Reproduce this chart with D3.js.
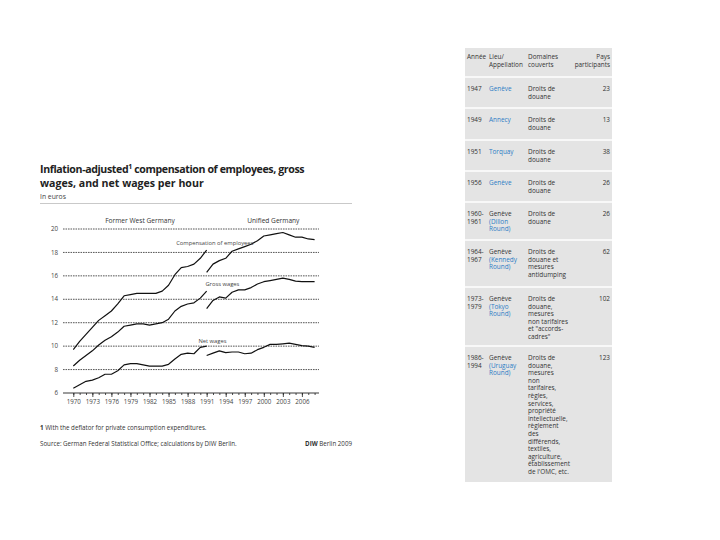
<!DOCTYPE html>
<html>
<head>
<meta charset="UTF-8">
<title>Wages and GATT rounds</title>
<script src="https://cdnjs.cloudflare.com/ajax/libs/d3/7.8.5/d3.min.js"></script>
<style>
  body { margin: 0; background: #fff; }
  text { font-family: "Open Sans", "DejaVu Sans", sans-serif; }
</style>
</head>
<body>
<svg width="720" height="540" id="canvas"></svg>
<script>
// chart data, euros per hour
var yearsWest = d3.range(1970, 1992);
var yearsUnified = d3.range(1991, 2009);
var compWest = [9.7, 10.4, 11.0, 11.6, 12.2, 12.6, 13.0, 13.6, 14.3, 14.4, 14.5,
                14.5, 14.5, 14.5, 14.7, 15.2, 16.1, 16.7, 16.8, 17.0, 17.5, 18.2];
var grossWest = [8.3, 8.8, 9.2, 9.6, 10.1, 10.5, 10.8, 11.2, 11.7, 11.8, 11.9,
                 11.9, 11.8, 11.9, 12.0, 12.3, 13.0, 13.4, 13.6, 13.7, 14.1, 14.7];
var netWest = [6.4, 6.7, 7.0, 7.1, 7.3, 7.6, 7.6, 7.9, 8.4, 8.5, 8.5,
               8.4, 8.3, 8.3, 8.3, 8.45, 8.9, 9.3, 9.4, 9.35, 9.9, 10.0];
var compUnified = [16.3, 17.0, 17.3, 17.5, 18.1, 18.3, 18.5, 18.7, 19.0, 19.4, 19.5,
                   19.6, 19.7, 19.5, 19.3, 19.3, 19.15, 19.1];
var grossUnified = [13.2, 13.9, 14.2, 14.1, 14.6, 14.8, 14.8, 15.0, 15.3, 15.5, 15.6,
                    15.7, 15.8, 15.7, 15.55, 15.5, 15.5, 15.5];
var netUnified = [9.2, 9.4, 9.6, 9.45, 9.5, 9.5, 9.35, 9.4, 9.7, 9.9, 10.15,
                  10.15, 10.2, 10.25, 10.15, 10.05, 10.0, 9.9];
var yTicks = [6, 8, 10, 12, 14, 16, 18, 20];
var xTickLabels = [1970, 1973, 1976, 1979, 1982, 1985, 1988, 1991, 1994, 1997, 2000, 2003, 2006];

// table data (GATT rounds)
var tableHeader = [["Année"], ["Lieu/", "Appellation"], ["Domaines", "couverts"], ["Pays", "participants"]];
var roundYears = [["1947"], ["1949"], ["1951"], ["1956"], ["1960-", "1961"], ["1964-", "1967"],
                  ["1973-", "1979"], ["1986-", "1994"]];
var roundPlaces = [["Genève"], ["Annecy"], ["Torquay"], ["Genève"], ["Genève", "(Dillon", "Round)"],
                   ["Genève", "(Kennedy", "Round)"], ["Genève", "(Tokyo", "Round)"],
                   ["Genève", "(Uruguay", "Round)"]];
var roundDomains = [["Droits de", "douane"], ["Droits de", "douane"], ["Droits de", "douane"],
                    ["Droits de", "douane"], ["Droits de", "douane"],
                    ["Droits de", "douane et", "mesures", "antidumping"],
                    ["Droits de", "douane,", "mesures", "non tarifaires", "et \"accords-", "cadres\""],
                    ["Droits de", "douane,", "mesures", "non", "tarifaires,", "règles,", "services,",
                     "propriété", "intellectuelle,", "règlement", "des", "différends,", "textiles,",
                     "agriculture,", "établissement", "de l'OMC, etc."]];
var roundCountries = ["23", "13", "38", "26", "26", "62", "102", "123"];

var svg = d3.select("#canvas");

// ---------- chart ----------
var x = d3.scaleLinear().domain([1970, 2008]).range([73.3, 314.6]);
var y = d3.scaleLinear().domain([6, 20]).range([393, 229]);

var head = svg.append("g").attr("fill", "#222");
head.append("text").attr("x", 40).attr("y", 173)
    .attr("font-size", 10.6).attr("font-weight", "bold").attr("letter-spacing", -0.38)
    .html("Inflation-adjusted<tspan font-size='7' baseline-shift='super'>1</tspan> compensation of employees, gross");
head.append("text").attr("x", 40).attr("y", 187)
    .attr("font-size", 10.6).attr("font-weight", "bold")
    .text("wages, and net wages per hour");
head.append("text").attr("x", 40).attr("y", 199)
    .attr("font-size", 6.8).attr("fill", "#444").text("In euros");
svg.append("line").attr("x1", 40).attr("x2", 352).attr("y1", 203.5).attr("y2", 203.5)
    .attr("stroke", "#bbb").attr("stroke-width", 0.8);

svg.append("g").attr("font-size", 6.6).attr("fill", "#333").attr("text-anchor", "middle")
  .selectAll("text").data([["Former West Germany", 1980.5], ["Unified Germany", 2001.5]])
  .enter().append("text")
    .attr("x", function (d) { return x(d[1]); }).attr("y", 223)
    .text(function (d) { return d[0]; });

// grid
svg.append("g").selectAll("line").data(yTicks.slice(1)).enter().append("line")
    .attr("x1", 63).attr("x2", 319)
    .attr("y1", function (d) { return y(d); }).attr("y2", function (d) { return y(d); })
    .attr("stroke", "#444").attr("stroke-width", 0.9).attr("stroke-dasharray", "1.6,0.9");

svg.append("g").attr("font-size", 6.2).attr("fill", "#444").attr("text-anchor", "end")
  .selectAll("text").data(yTicks).enter().append("text")
    .attr("x", 58).attr("y", function (d) { return y(d) + 2.2; })
    .text(function (d) { return d; });

// x axis
svg.append("line").attr("x1", 63).attr("x2", 319).attr("y1", y(6)).attr("y2", y(6))
    .attr("stroke", "#222").attr("stroke-width", 0.9);
var minorAxis = d3.axisBottom(x).tickValues(d3.range(1970, 2009)).tickSize(2).tickFormat("");
var majorAxis = d3.axisBottom(x).tickValues(xTickLabels).tickSize(4).tickPadding(3).tickFormat(d3.format("d"));
var gMinor = svg.append("g").attr("transform", "translate(0," + y(6) + ")").call(minorAxis);
var gMajor = svg.append("g").attr("transform", "translate(0," + y(6) + ")").call(majorAxis);
[gMinor, gMajor].forEach(function (g) {
    g.select(".domain").remove();
    g.selectAll(".tick line").attr("stroke", "#222").attr("stroke-width", 0.8);
});
gMajor.selectAll(".tick text").attr("font-size", 6.2).attr("fill", "#444")
    .attr("font-family", "\"Open Sans\", sans-serif");

// lines
var line = d3.line().x(function (d) { return x(d[0]); }).y(function (d) { return y(d[1]); });
var seriesList = [[yearsWest, compWest], [yearsWest, grossWest], [yearsWest, netWest],
                  [yearsUnified, compUnified], [yearsUnified, grossUnified], [yearsUnified, netUnified]];
svg.append("g").selectAll("path").data(seriesList).enter().append("path")
    .attr("d", function (s) { return line(d3.zip(s[0], s[1])); })
    .attr("fill", "none").attr("stroke", "#111").attr("stroke-width", 1.2)
    .attr("stroke-linejoin", "round");

svg.append("g").attr("font-size", 5.8).attr("fill", "#444")
  .selectAll("text").data([["Compensation of employees", 1986.2, 18.6], ["Gross wages", 1990.8, 15.1],
                          ["Net wages", 1989.7, 10.3]])
  .enter().append("text")
    .attr("x", function (d) { return x(d[1]); }).attr("y", function (d) { return y(d[2]); })
    .text(function (d) { return d[0]; });

// notes
var notes = svg.append("g").attr("font-size", 6.2).attr("fill", "#333");
notes.append("text").attr("x", 40).attr("y", 430)
    .html("<tspan font-weight='bold'>1</tspan> With the deflator for private consumption expenditures.");
notes.append("text").attr("x", 40).attr("y", 446)
    .text("Source: German Federal Statistical Office; calculations by DIW Berlin.");
notes.append("text").attr("x", 352).attr("y", 446).attr("text-anchor", "end")
    .html("<tspan font-weight='bold'>DIW</tspan> Berlin 2009");

// ---------- table ----------
var tX = 465, tW = 147, tTop = 48, tBottom = 482;
var rowTops = [77, 108, 140, 171, 202, 240, 287, 346];
var colX = [467, 489, 528];
var lh = 7.6;
var tg = svg.append("g").attr("font-size", 6.4);
tg.append("rect").attr("x", tX).attr("y", tTop).attr("width", tW).attr("height", tBottom - tTop)
    .attr("fill", "#e4e4e4");
tg.selectAll("line.sep").data(rowTops).enter().append("line")
    .attr("x1", tX).attr("x2", tX + tW)
    .attr("y1", function (d) { return d; }).attr("y2", function (d) { return d; })
    .attr("stroke", "#fff").attr("stroke-width", 1.5);

function cell(lines, cx, top, anchor, colorFn) {
    tg.append("text").attr("x", cx).attr("y", top).attr("text-anchor", anchor || "start")
      .selectAll("tspan").data(lines).enter().append("tspan")
        .attr("x", cx).attr("dy", function (d, i) { return i === 0 ? 0 : lh; })
        .attr("fill", function (d, i) { return colorFn ? colorFn(i) : "#333"; })
        .text(function (d) { return d; });
}
cell(tableHeader[0], colX[0], 59);
cell(tableHeader[1], colX[1], 59);
cell(tableHeader[2], colX[2], 59);
cell(tableHeader[3], 610, 59, "end");
rowTops.forEach(function (top, i) {
    var base = top + 14;
    var multi = roundPlaces[i].length > 1;
    cell(roundYears[i], colX[0], base);
    cell(roundPlaces[i], colX[1], base, "start", function (k) {
        return (multi && k === 0) ? "#333" : "#2c7cc4";
    });
    cell(roundDomains[i], colX[2], base);
    cell([roundCountries[i]], 610, base, "end");
});
</script>
</body>
</html>
